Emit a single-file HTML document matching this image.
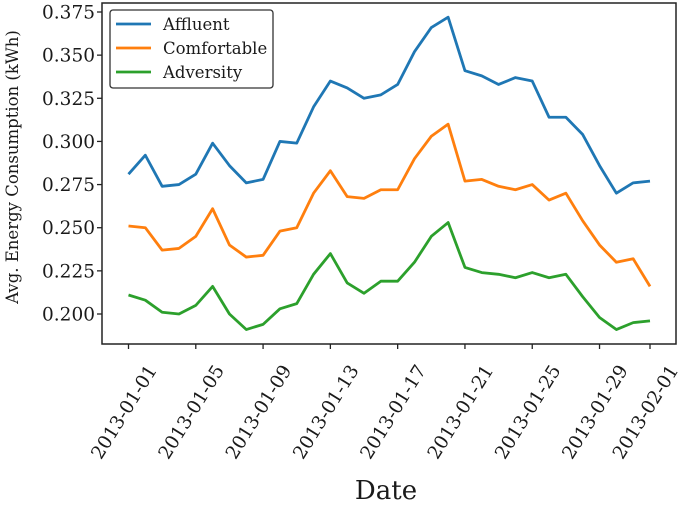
<!DOCTYPE html>
<html><head><meta charset="utf-8"><style>
body{margin:0;background:#fff;}
svg text{font-family:"DejaVu Serif","Liberation Serif",serif;fill:#1a1a1a;}
</style></head><body>
<svg id="chart" width="685" height="504" viewBox="0 0 685 504" xmlns="http://www.w3.org/2000/svg"></svg>
<script>
const dates=["2013-01-01","2013-01-05","2013-01-09","2013-01-13","2013-01-17","2013-01-21","2013-01-25","2013-01-29","2013-02-01"];
const dateIdx=[0,4,8,12,16,20,24,28,31];
const yTicks=[0.200,0.225,0.250,0.275,0.300,0.325,0.350,0.375];
const affluent=[0.281,0.292,0.274,0.275,0.281,0.299,0.286,0.276,0.278,0.300,0.299,0.320,0.335,0.331,0.325,0.327,0.333,0.352,0.366,0.372,0.341,0.338,0.333,0.337,0.335,0.314,0.314,0.304,0.286,0.270,0.276,0.277];
const comfortable=[0.251,0.250,0.237,0.238,0.245,0.261,0.240,0.233,0.234,0.248,0.250,0.270,0.283,0.268,0.267,0.272,0.272,0.290,0.303,0.310,0.277,0.278,0.274,0.272,0.275,0.266,0.270,0.254,0.240,0.230,0.232,0.216];
const adversity=[0.211,0.208,0.201,0.200,0.205,0.216,0.200,0.191,0.194,0.203,0.206,0.223,0.235,0.218,0.212,0.219,0.219,0.230,0.245,0.253,0.227,0.224,0.223,0.221,0.224,0.221,0.223,0.210,0.198,0.191,0.195,0.196];
const seriesNames=["Affluent","Comfortable","Adversity"];
const colors=["#1f77b4","#ff7f0e","#2ca02c"];
const NS="http://www.w3.org/2000/svg";
const svg=document.getElementById('chart');
const L=102,T=3,R=676,B=344;
const x=i=>128.5+(650-128.5)*i/31;
const y=v=>314-(v-0.2)*(302/0.175);
function mk(tag,attrs,parent){const e=document.createElementNS(NS,tag);for(const k in attrs)e.setAttribute(k,attrs[k]);(parent||svg).appendChild(e);return e;}
[affluent,comfortable,adversity].forEach((s,k)=>{
  const p=mk('polyline',{points:s.map((v,i)=>x(i)+','+y(v)).join(' '),fill:'none',stroke:colors[k],'stroke-width':2.8,'stroke-linejoin':'round'});
  
  
});
const frame=mk('rect',{x:L,y:T,width:R-L,height:B-T,fill:'none',stroke:'#222','stroke-width':1.5});


yTicks.forEach(v=>{
  mk('line',{x1:L-5,x2:L,y1:y(v),y2:y(v),stroke:'#222','stroke-width':1.3});
  const t=mk('text',{x:L-7,y:y(v)+6.5,'text-anchor':'end','font-size':18.5});
  t.textContent=v.toFixed(3);
  
  
});
dates.forEach((d,j)=>{
  const xx=x(dateIdx[j]);
  mk('line',{x1:xx,x2:xx,y1:B,y2:B+5,stroke:'#222','stroke-width':1.3});
  const t=mk('text',{x:0,y:0,'text-anchor':'end','font-size':18.5,transform:`translate(${xx+29},${B+26}) rotate(-58)`});
  t.textContent=d;
  
  
});
const xt=mk('text',{x:386,y:499,'text-anchor':'middle','font-size':26});
xt.textContent='Date';


const yt=mk('text',{x:0,y:0,'text-anchor':'middle','font-size':16.5,transform:'translate(18,167) rotate(-90)'});
yt.textContent='Avg. Energy Consumption (kWh)';


const lg=mk('g',{});


mk('rect',{x:110,y:10,width:163,height:78,rx:3,fill:'#fff',stroke:'#333','stroke-width':1.3},lg);
seriesNames.forEach((n,k)=>{
  const yy=24+k*24;
  const e=mk('g',{},lg);
  
  
  mk('line',{x1:116,x2:151,y1:yy,y2:yy,stroke:colors[k],'stroke-width':2.8},e);
  const t=mk('text',{x:163,y:yy+6,'font-size':16.5},e);
  t.textContent=n;
});
</script>
</body></html>
